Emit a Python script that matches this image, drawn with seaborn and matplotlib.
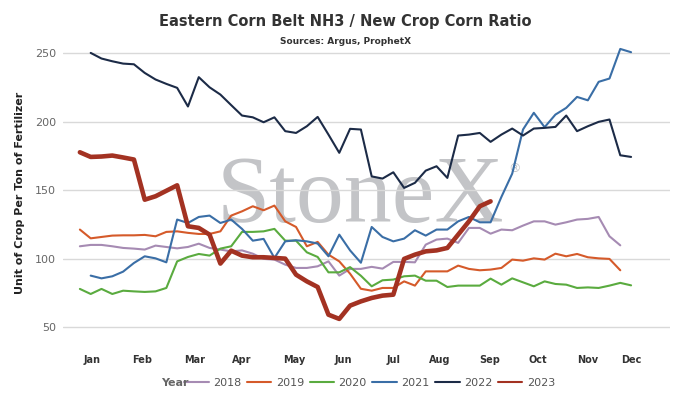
import numpy as np
import pandas as pd
import seaborn as sns
import matplotlib.pyplot as plt

# weekly ratio values, first week of each series given in FIRST_WEEK
Y2018 = [109, 110, 110, 109, 107.8, 107.3, 106.6, 109.5, 108.5, 107.5, 108.5, 110.9, 107.8, 106.6,
         105.3, 106, 103.6, 99.8, 99.3, 95.6, 93.2, 93.2, 94.4, 98, 87.6, 92.5, 92.5, 94, 92.7, 97.6,
         97.6, 97.3, 110.2, 113.9, 114.6, 111.5, 122.4, 122.4, 118.2, 121.2, 120.7, 124.1, 127.2,
         127.2, 124.8, 126.5, 128.5, 129, 130.4, 116.3, 109.7]
Y2019 = [121.2, 114.8, 115.8, 116.8, 117, 117, 117.3, 116.3, 119.5, 119.9, 118.8, 118, 118, 119.9,
         131.4, 134.5, 138.2, 135.3, 138.7, 127.2, 123.1, 109, 112.2, 102.9, 98, 89, 78, 76.6, 78.6,
         78.6, 83.4, 80.3, 90.7, 90.7, 90.7, 94.9, 92.5, 91.5, 92, 93.2, 99.3, 98.5, 100.2, 99.3,
         103.6, 101.7, 103.4, 101, 100.2, 99.8, 91.5]
Y2020 = [77.9, 74.2, 77.9, 74.2, 76.6, 76.1, 75.7, 76.1, 78.6, 98, 101.2, 103.4, 102.2, 107.3, 109,
         119.5, 119.5, 119.9, 121.7, 113.1, 113.1, 104.6, 101.2, 90, 90, 93.8, 87.5, 79.8, 84.2, 84.7,
         87.1, 87.6, 83.9, 83.9, 79.3, 80.3, 80.3, 80.3, 85.4, 81, 85.6, 82.7, 79.8, 83.4, 81.5, 81,
         78.6, 79, 78.6, 80.3, 82.3, 80.5]
Y2021 = [87.6, 85.6, 87.1, 90.5, 96.8, 101.7, 100.2, 97.3, 128.5, 126, 130.4, 131.4, 126, 128.5,
         121.7, 113.1, 114.4, 100.5, 112.6, 113.4, 112.6, 111, 101.7, 117.5, 106, 97, 123.1, 115.8,
         112.6, 114.6, 120.7, 116.8, 121.2, 121.2, 127.2, 130.4, 126.5, 126.5, 145, 162, 194.2, 206.4,
         195.9, 205.1, 210, 218, 215.5, 229, 231.4, 253, 250.6]
Y2022 = [250.1, 246, 244, 242.3, 241.8, 235.5, 230.7, 227.5, 224.6, 211, 232.4, 225, 219.7, 212,
         204.4, 203.1, 199.5, 203.1, 193, 191.7, 196.6, 203.4, 190.5, 177.2, 194.7, 194.2, 160, 158.4,
         163, 151.6, 155.3, 164.2, 167.4, 158.9, 189.8, 190.5, 191.7, 185.2, 190.5, 194.9, 189.8,
         194.9, 195.4, 196.1, 204.4, 193, 196.6, 199.8, 201.5, 175.4, 174.2]
Y2023 = [177.6, 174.2, 174.5, 175.2, 173.8, 172.3, 143, 145.5, 149.5, 153.5, 123.6, 122.4, 117.5,
         96.4, 105.8, 102.2, 101, 101, 100.5, 100, 88.3, 83.4, 79.3, 59.1, 56, 65.7, 68.8, 71.3, 73,
         73.7, 99.8, 102.9, 105.3, 106, 107.8, 117.5, 127.2, 138.2, 141.8]

YEARS = ['2018', '2019', '2020', '2021', '2022', '2023']
SERIES = [Y2018, Y2019, Y2020, Y2021, Y2022, Y2023]
FIRST_WEEK = [-1, -1, -1, 0, 0, -1]
COLORS = ['#a68bb3', '#d55a2a', '#5aab3f', '#3a6ea6', '#1c2b47', '#a33222']

MONTHS = ['Jan', 'Feb', 'Mar', 'Apr', 'May', 'Jun', 'Jul', 'Aug', 'Sep', 'Oct', 'Nov', 'Dec']
MONTH_WEEKS = [0.1, 4.75, 9.65, 14.0, 18.8, 23.4, 28.0, 32.3, 36.9, 41.4, 45.95, 50.0]
YTICKS = [50, 100, 150, 200, 250]

rows = []
for year, vals, start in zip(YEARS, SERIES, FIRST_WEEK):
    for i, v in enumerate(vals):
        rows.append({'Year': year, 'week': start + i, 'ratio': v})
df = pd.DataFrame(rows)

sns.set_theme(style='white')
plt.rcParams['font.family'] = ['DejaVu Sans']

fig = plt.figure(figsize=(6.91, 4.04), dpi=100)
ax = fig.add_axes([0.0912, 0.158, 0.8784, 0.728])

# watermark behind the lines
ax.text(25.0, 127, 'StoneX', fontsize=69, family='Liberation Serif', color='#c3c4c7',
        ha='center', va='baseline', zorder=0)
ax.text(39.2, 166, '®', fontsize=9, color='#c3c4c7', ha='center', va='center', zorder=0)

for year, color in zip(YEARS, COLORS):
    sub = df[df['Year'] == year]
    sns.lineplot(data=sub, x='week', y='ratio', ax=ax, color=color,
                 linewidth=3.3 if year == '2023' else 1.5, label=year, zorder=3)

ax.set_xlim(-2.56, 53.6)
ax.set_ylim(40.5, 255.1)
ax.set_yticks(YTICKS)
ax.set_yticklabels([str(t) for t in YTICKS], color='#666666', fontsize=8)
ax.set_xticks(MONTH_WEEKS)
ax.set_xticklabels(MONTHS, fontsize=7, fontweight='bold', color='#333333')
ax.tick_params(axis='x', length=0, pad=11)
ax.tick_params(axis='y', length=0, pad=5)
ax.grid(axis='y', color='#d9d9d9', linewidth=1)
ax.grid(axis='x', visible=False)
for s in ax.spines.values():
    s.set_visible(False)
ax.set_xlabel('')
ax.set_ylabel('Unit of Crop Per Ton of Fertilizer', fontsize=8, fontweight='bold',
              color='#222222', labelpad=7)

fig.text(0.5, 0.948, 'Eastern Corn Belt NH3 / New Crop Corn Ratio', ha='center', va='center',
         fontsize=10.5, fontweight='bold', color='#333333')
fig.text(0.5, 0.898, 'Sources: Argus, ProphetX', ha='center', va='center',
         fontsize=6.5, fontweight='bold', color='#333333')

fig.text(0.233, 0.052, 'Year', ha='left', va='center', fontsize=8, fontweight='bold', color='#666666')
leg = ax.legend(loc='center', bbox_to_anchor=(0.535, 0.052), bbox_transform=fig.transFigure,
                ncol=6, frameon=False, fontsize=8, handlelength=2.2, handletextpad=0.4,
                columnspacing=0.5)
for t in leg.get_texts():
    t.set_color('#555555')
for h in leg.get_lines():
    h.set_linewidth(1.5)

fig.savefig('out.png', dpi=100)
